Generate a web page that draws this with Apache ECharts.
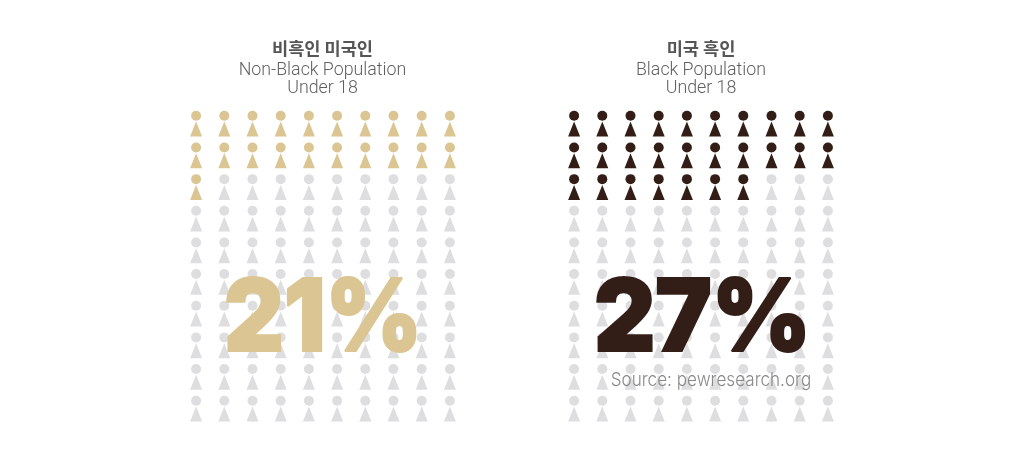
<!DOCTYPE html>
<html><head><meta charset="utf-8">
<style>html,body{margin:0;padding:0;background:#fff}#c{width:1024px;height:460px}</style>
<script src="https://cdn.jsdelivr.net/npm/echarts@6/dist/echarts.min.js"></script>
</head><body><div id="c"></div>
<script>
const columns = ['1','2','3','4','5','6','7','8','9','10'];
const rows = ['1','2','3','4','5','6','7','8','9','10'];
const filledPerRowNonBlack = [10,10,1,0,0,0,0,0,0,0];
const filledPerRowBlack = [10,10,7,0,0,0,0,0,0,0];
const titlesKo = ['비흑인 미국인','미국 흑인'];
const titlesEn = ['Non-Black Population\nUnder 18','Black Population\nUnder 18'];
const bigLabels = ['21%','27%'];
const source = 'Source: pewresearch.org';
const GOLD='#dbc693', DARK='#331e17', GREY='#dedee0';

function cells(filled,on){
  const out=[];
  rows.forEach((r,ri)=>columns.forEach((c,ci)=>{
    if((ci<filled[ri])===on) out.push([c,r]);
  }));
  return out;
}
const lefts=[182,560];
const panels=[[filledPerRowNonBlack,GOLD],[filledPerRowBlack,DARK]];
const grid=[],xAxis=[],yAxis=[],series=[],graphic=[];
panels.forEach(([f,col],i)=>{
  grid.push({left:lefts[i],top:108,width:282,height:316.5});
  xAxis.push({type:'category',gridIndex:i,data:columns,show:false});
  yAxis.push({type:'category',gridIndex:i,data:rows,inverse:true,show:false});
  [[false,GREY],[true,col]].forEach(([on,color])=>{
    const base={type:'scatter',xAxisIndex:i,yAxisIndex:i,data:cells(f,on),itemStyle:{color,opacity:1},silent:true,animation:false};
    series.push({...base,symbol:'circle',symbolSize:10,symbolOffset:[0,-8]});
    series.push({...base,symbol:'triangle',symbolSize:[12,15],symbolOffset:[0,5.25]});
  });
  const cx=[322.5,701][i];
  graphic.push({type:'text',x:cx,y:48,z:10,style:{text:titlesKo[i],x:0,y:0,align:'center',verticalAlign:'middle',
    font:'700 17.6px "Noto Sans CJK KR"',fill:'#555555'}});
  graphic.push({type:'text',x:cx,y:80,z:10,style:{text:titlesEn[i],x:0,y:0,align:'center',verticalAlign:'middle',lineHeight:18,
    font:'300 17.8px Roboto',fill:'#5f5f5f'}});
  graphic.push({type:'text',x:[323,702.5][i],y:320.5,scaleX:[0.925,0.95][i],z:10,style:{text:bigLabels[i],x:0,y:0,align:'center',verticalAlign:'middle',
    font:'900 100px Inter',fill:col,stroke:col,lineWidth:2}});
});
graphic.push({type:'text',x:711,y:380,scaleX:0.9,z:10,style:{text:source,x:0,y:0,align:'center',verticalAlign:'middle',
  font:'300 19px Inter',fill:'#8a8a8a'}});
const chart=echarts.init(document.getElementById('c'),null,{renderer:'canvas'});
chart.setOption({animation:false,backgroundColor:'#fff',grid,xAxis,yAxis,series,graphic});
</script></body></html>
